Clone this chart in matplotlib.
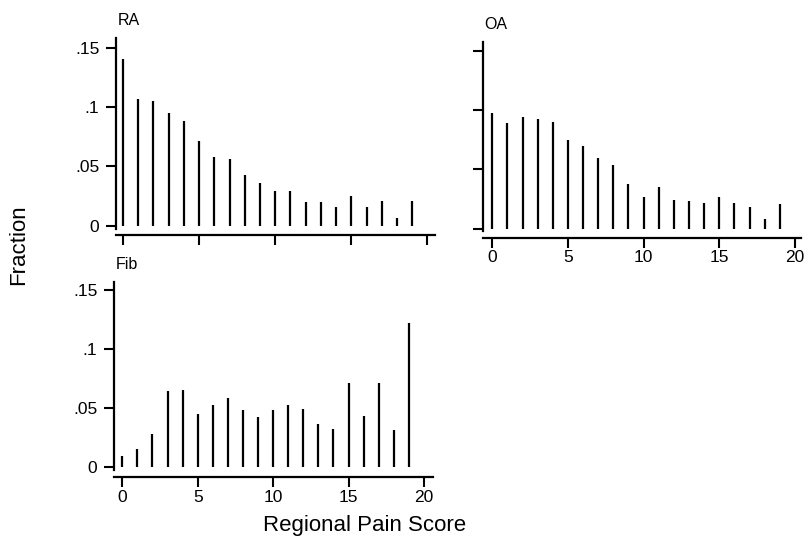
import numpy as np
import matplotlib.pyplot as plt

plt.rcParams['font.family'] = ['Liberation Sans', 'DejaVu Sans']

scores = np.arange(0, 20)
ra_frac = [0.140, 0.107, 0.105, 0.095, 0.088, 0.071, 0.058, 0.056, 0.043, 0.036,
           0.029, 0.029, 0.020, 0.020, 0.016, 0.025, 0.016, 0.021, 0.007, 0.021]
oa_frac = [0.098, 0.089, 0.094, 0.093, 0.090, 0.075, 0.070, 0.060, 0.054, 0.038,
           0.027, 0.035, 0.024, 0.023, 0.022, 0.027, 0.022, 0.018, 0.008, 0.021]
fib_frac = [0.009, 0.015, 0.028, 0.064, 0.065, 0.045, 0.052, 0.058, 0.048, 0.042,
            0.048, 0.052, 0.049, 0.036, 0.032, 0.071, 0.043, 0.071, 0.031, 0.122]

yticks = [0, 0.05, 0.1, 0.15]
ytick_labels = ['0', '.05', '.1', '.15']
xticks = [0, 5, 10, 15, 20]

W, H = 805, 544
fig = plt.figure(figsize=(W / 100, H / 100), dpi=100)


def panel(box, xl, yl, vals, title, xlab, ylab):
    # box in pixels: left, right, top, bottom
    l, r, t, b = box
    ax = fig.add_axes([l / W, 1 - b / H, (r - l) / W, (b - t) / H])
    ax.vlines(scores, 0, vals, color='black', lw=1.6)
    ax.set_xlim(*xl)
    ax.set_ylim(*yl)
    for s in ['top', 'right']:
        ax.spines[s].set_visible(False)
    for s in ['left', 'bottom']:
        ax.spines[s].set_linewidth(1.6)
    ax.spines['left'].set_bounds(yl[0] * 0.3, yl[1])
    ax.set_yticks(yticks)
    ax.set_xticks(xticks)
    ax.set_yticklabels(ytick_labels if ylab else [])
    ax.set_xticklabels([str(v) for v in xticks] if xlab else [])
    ax.tick_params(direction='out', length=7, width=1.5, labelsize=12.5)
    ax.tick_params(axis='y', pad=5)
    ax.tick_params(axis='x', pad=2)
    ax.annotate(title, xy=(0, 1), xycoords='axes fraction', xytext=(1, 7),
                textcoords='offset points', fontsize=11.5, ha='left', va='bottom')
    ax.patch.set_visible(False)
    return ax


panel((116, 435, 38, 235), (-0.46, 20.5), (-0.0076, 0.158), ra_frac, 'RA', False, True)
panel((483, 801, 42, 238), (-0.61, 20.4), (-0.0079, 0.1576), oa_frac, 'OA', True, False)
panel((114, 433, 282, 477), (-0.55, 20.6), (-0.0089, 0.157), fib_frac, 'Fib', True, True)

fig.text(19 / W, 1 - 245 / H, 'Fraction', rotation=90, fontsize=16, ha='center', va='center')
fig.text(365 / W, 1 - 525 / H, 'Regional Pain Score', fontsize=16, ha='center', va='center')

fig.savefig('out.png', dpi=100)
